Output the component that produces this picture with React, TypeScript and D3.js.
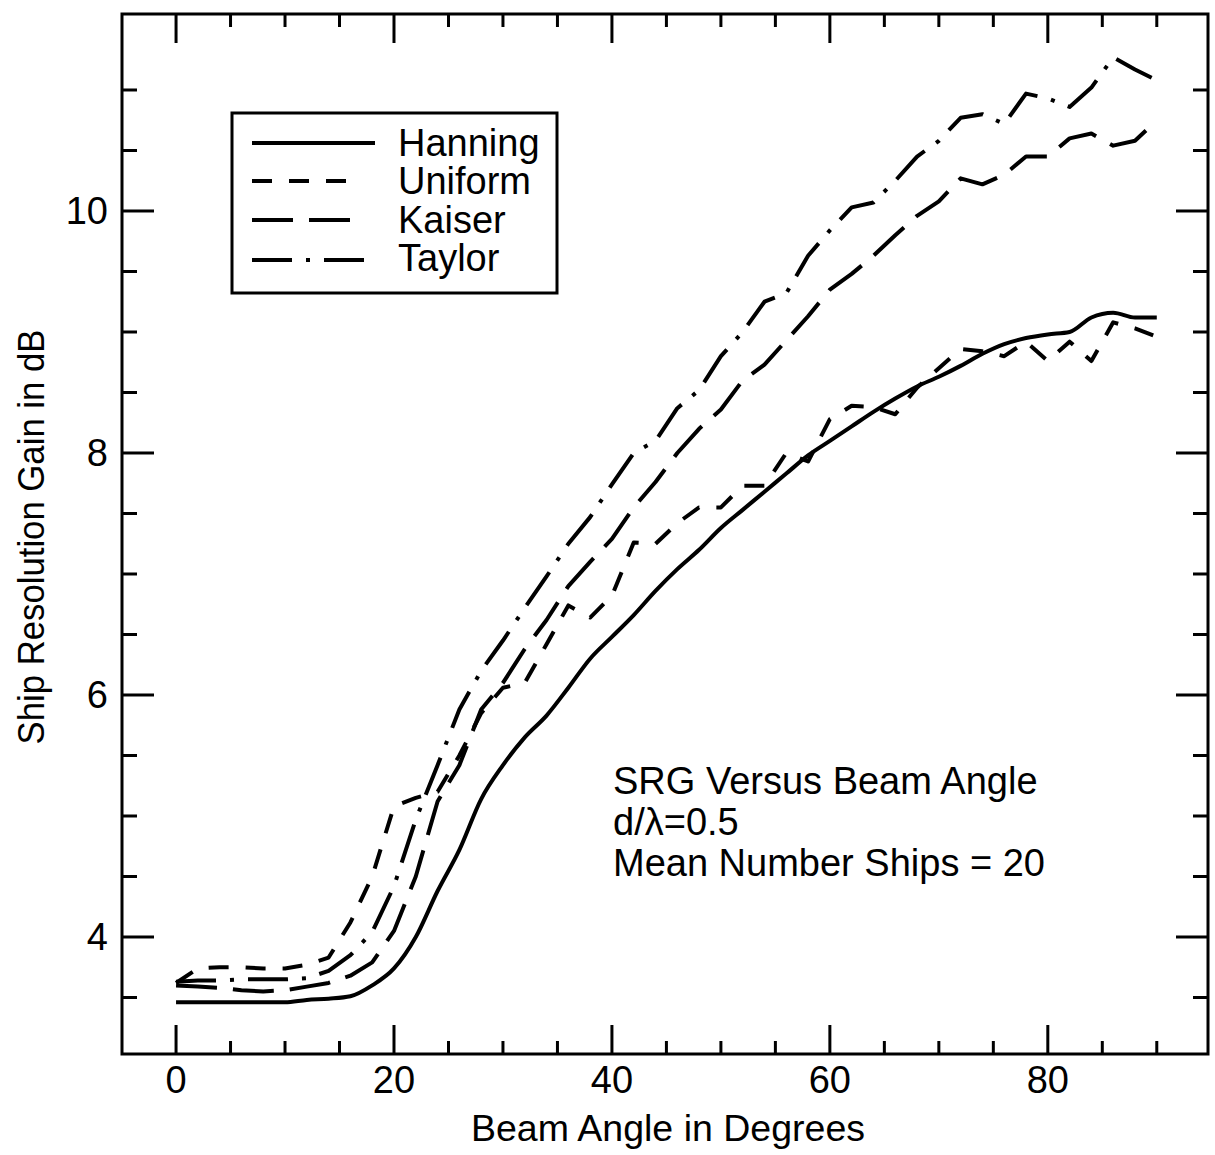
import React from "react";
import * as d3 from "d3";

// ---- data ----
const angles = [0, 2, 4, 6, 8, 10, 12, 14, 16, 18, 20, 22, 24, 26, 28, 30, 32, 34, 36, 38, 40, 42, 44, 46, 48, 50, 52, 54, 56, 58, 60, 62, 64, 66, 68, 70, 72, 74, 76, 78, 80, 82, 84, 86, 88, 90];

const hanning = [3.46, 3.46, 3.46, 3.46, 3.46, 3.46, 3.48, 3.49, 3.51, 3.6, 3.74, 4.0, 4.38, 4.72, 5.14, 5.42, 5.65, 5.83, 6.06, 6.3, 6.48, 6.66, 6.86, 7.04, 7.2, 7.38, 7.53, 7.68, 7.83, 7.98, 8.1, 8.22, 8.34, 8.45, 8.55, 8.63, 8.72, 8.82, 8.9, 8.95, 8.98, 9.0, 9.12, 9.16, 9.12, 9.12];

const uniform = [3.62, 3.74, 3.75, 3.75, 3.74, 3.74, 3.77, 3.83, 4.12, 4.5, 5.08, 5.15, 5.2, 5.5, 5.85, 6.06, 6.1, 6.42, 6.74, 6.64, 6.82, 7.26, 7.25, 7.42, 7.55, 7.55, 7.73, 7.73, 8.0, 7.93, 8.28, 8.39, 8.38, 8.32, 8.54, 8.7, 8.86, 8.84, 8.8, 8.92, 8.76, 8.92, 8.76, 9.08, 9.03, 8.96];

const kaiser = [3.6, 3.59, 3.58, 3.56, 3.55, 3.56, 3.59, 3.62, 3.68, 3.79, 4.05, 4.5, 5.12, 5.42, 5.88, 6.1, 6.38, 6.62, 6.9, 7.1, 7.29, 7.55, 7.76, 8.0, 8.2, 8.36, 8.6, 8.73, 8.93, 9.13, 9.35, 9.48, 9.63, 9.8, 9.96, 10.08, 10.27, 10.22, 10.3, 10.45, 10.45, 10.6, 10.64, 10.54, 10.58, 10.75];

const taylor = [3.63, 3.64, 3.64, 3.65, 3.65, 3.65, 3.66, 3.72, 3.85, 4.04, 4.42, 4.97, 5.42, 5.88, 6.2, 6.45, 6.72, 6.98, 7.25, 7.47, 7.74, 8.0, 8.1, 8.37, 8.52, 8.8, 9.0, 9.25, 9.32, 9.63, 9.84, 10.03, 10.07, 10.25, 10.45, 10.58, 10.77, 10.8, 10.72, 10.97, 10.93, 10.86, 11.02, 11.27, 11.17, 11.08];

const seriesNames = ["Hanning", "Uniform", "Kaiser", "Taylor"];
const seriesValues = [hanning, uniform, kaiser, taylor];

const xMajorTicks = [0, 20, 40, 60, 80];
const xMinorTicks = [5, 10, 15, 25, 30, 35, 45, 50, 55, 65, 70, 75, 85, 90];
const yMajorTicks = [4, 6, 8, 10];
const yMinorTicks = [3.5, 4.5, 5, 5.5, 6.5, 7, 7.5, 8.5, 9, 9.5, 10.5, 11];

const xLabel = "Beam Angle in Degrees";
const yLabel = "Ship Resolution Gain in dB";
const annotationLines = ["SRG Versus Beam Angle", "d/\u03bb=0.5", "Mean Number Ships = 20"];

// ---- styles ----
const W = 1215;
const H = 1155;
const FONT = "'Liberation Sans', Arial, Helvetica, sans-serif";
const frame = { left: 122, right: 1208, top: 14, bottom: 1054 };
const dashes = ["none", "20 17", "41 16", "40 14 4 14"];
const legendLen = [123, 103, 103, 123];

export default function App() {
  const x = d3.scaleLinear().domain([-4.96, 94.7]).range([frame.left, frame.right]);
  const y = d3.scaleLinear().domain([3.033, 11.628]).range([frame.bottom, frame.top]);

  const line = d3
    .line<number>()
    .x((_, i) => x(angles[i]))
    .y((v) => y(v))
    .curve(d3.curveLinear);
  const smooth = d3
    .line<number>()
    .x((_, i) => x(angles[i]))
    .y((v) => y(v))
    .curve(d3.curveMonotoneX);

  const majorLenX = 29;
  const minorLenX = 13;
  const majorLenY = 32;
  const minorLenY = 15;
  const tickStroke = 3;

  return (
    <svg
      width={W}
      height={H}
      viewBox={`0 0 ${W} ${H}`}
      style={{ position: "absolute", left: 0, top: 0, background: "#fff" }}
      fontFamily={FONT}
    >
      <rect x={0} y={0} width={W} height={H} fill="#fff" />

      {/* frame */}
      <rect
        x={frame.left}
        y={frame.top}
        width={frame.right - frame.left}
        height={frame.bottom - frame.top}
        fill="none"
        stroke="#000"
        strokeWidth={3}
      />

      {/* x ticks bottom & top */}
      {xMajorTicks.map((t) => (
        <g key={"xM" + t}>
          <line x1={x(t)} x2={x(t)} y1={frame.bottom} y2={frame.bottom - majorLenX} stroke="#000" strokeWidth={tickStroke} />
          <line x1={x(t)} x2={x(t)} y1={frame.top} y2={frame.top + majorLenX} stroke="#000" strokeWidth={tickStroke} />
          <text x={x(t)} y={1093} fontSize={38} textAnchor="middle" fill="#000">
            {t}
          </text>
        </g>
      ))}
      {xMinorTicks.map((t) => (
        <g key={"xm" + t}>
          <line x1={x(t)} x2={x(t)} y1={frame.bottom} y2={frame.bottom - minorLenX} stroke="#000" strokeWidth={tickStroke} />
          <line x1={x(t)} x2={x(t)} y1={frame.top} y2={frame.top + minorLenX} stroke="#000" strokeWidth={tickStroke} />
        </g>
      ))}

      {/* y ticks left & right */}
      {yMajorTicks.map((t) => (
        <g key={"yM" + t}>
          <line x1={frame.left} x2={frame.left + majorLenY} y1={y(t)} y2={y(t)} stroke="#000" strokeWidth={tickStroke} />
          <line x1={frame.right} x2={frame.right - majorLenY} y1={y(t)} y2={y(t)} stroke="#000" strokeWidth={tickStroke} />
          <text x={108} y={y(t) + 13} fontSize={38} textAnchor="end" fill="#000">
            {t}
          </text>
        </g>
      ))}
      {yMinorTicks.map((t) => (
        <g key={"ym" + t}>
          <line x1={frame.left} x2={frame.left + minorLenY} y1={y(t)} y2={y(t)} stroke="#000" strokeWidth={tickStroke} />
          <line x1={frame.right} x2={frame.right - minorLenY} y1={y(t)} y2={y(t)} stroke="#000" strokeWidth={tickStroke} />
        </g>
      ))}

      {/* series */}
      {seriesValues.map((vals, i) => (
        <path
          key={seriesNames[i]}
          d={(i === 0 ? smooth : line)(vals) || ""}
          fill="none"
          stroke="#000"
          strokeWidth={4}
          strokeDasharray={dashes[i]}
          strokeLinejoin="round"
        />
      ))}

      {/* legend */}
      <rect x={232} y={113} width={325} height={180} fill="#fff" stroke="#000" strokeWidth={3} />
      {seriesNames.map((name, i) => {
        const ly = [143, 181, 220, 260][i];
        return (
          <g key={"lg" + name}>
            <line
              x1={252}
              x2={252 + legendLen[i]}
              y1={ly}
              y2={ly}
              stroke="#000"
              strokeWidth={4}
              strokeDasharray={dashes[i]}
            />
            <text x={398} y={[156, 194, 233, 271][i]} fontSize={38} fill="#000">
              {name}
            </text>
          </g>
        );
      })}

      {/* annotation */}
      {annotationLines.map((s, i) => (
        <text key={"an" + i} x={613} y={794 + i * 41} fontSize={38} fill="#000">
          {s}
        </text>
      ))}

      {/* axis labels */}
      <text x={668} y={1141} fontSize={37.5} textAnchor="middle" fill="#000">
        {xLabel}
      </text>
      <text
        transform={`translate(44, 537) rotate(-90)`}
        fontSize={36}
        textAnchor="middle"
        textLength={415}
        lengthAdjust="spacingAndGlyphs"
        fill="#000"
      >
        {yLabel}
      </text>
    </svg>
  );
}
